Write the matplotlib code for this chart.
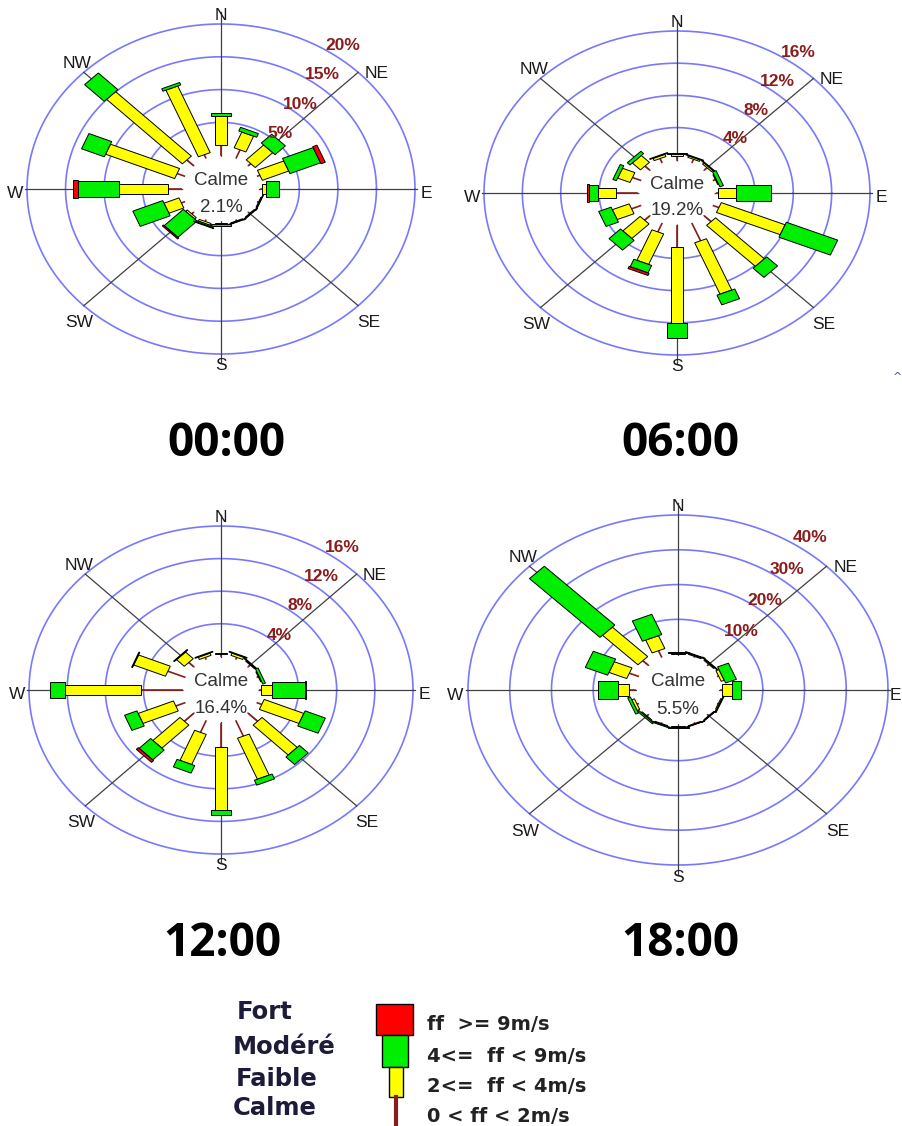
import numpy as np
import matplotlib
matplotlib.use('Agg')
import matplotlib.pyplot as plt
from matplotlib.patches import Polygon, Circle, Rectangle

W, H = 902, 1126

# 16 directions, clockwise from north
directions = ['N', 'NNE', 'NE', 'ENE', 'E', 'ESE', 'SE', 'SSE',
              'S', 'SSW', 'SW', 'WSW', 'W', 'WNW', 'NW', 'NNW']
angles = np.arange(16) * 22.5

hours = ['00:00', '06:00', '12:00', '18:00']
calme_pct = [2.1, 19.2, 16.4, 5.5]
ring_max = [20, 16, 16, 40]

# frequencies (%) per speed class: calm 0-2, faible 2-4, modere 4-9, fort >=9 m/s
calm_00 = [1.5, 1.3, 0.3, 0.3, 0.2, 0.1, 0.1, 0.1, 0.1, 0.2, 0.2, 0.4, 1.7, 1.0, 1.1, 0.5]
faible_00 = [4.5, 2.6, 3.2, 3.7, 0.5, 0.1, 0.1, 0.1, 0.1, 0.3, 0.3, 2.1, 6.4, 9.7, 13.9, 11.0]
modere_00 = [0.5, 0.6, 1.9, 4.3, 1.7, 0.1, 0.1, 0.1, 0.3, 0.2, 3.5, 4.2, 5.3, 3.2, 3.6, 0.4]
fort_00 = [0, 0, 0, 0.6, 0, 0, 0, 0, 0, 0.1, 0.2, 0, 0.6, 0, 0, 0]

calm_06 = [0.5, 0.4, 0.3, 0.2, 0.2, 0.6, 0.9, 2.3, 2.6, 1.1, 0.65, 1.0, 2.25, 0.9, 0.6, 0.5]
faible_06 = [0.2, 0.2, 0.2, 0.1, 1.8, 7.2, 7.2, 6.9, 9.4, 4.1, 2.55, 1.9, 1.85, 1.4, 1.2, 0.3]
modere_06 = [0.1, 0.1, 0.1, 0.4, 3.7, 5.8, 1.6, 1.3, 1.9, 1.0, 1.7, 1.4, 1.0, 0.4, 0.4, 0.1]
fort_06 = [0, 0, 0, 0, 0, 0, 0, 0, 0, 0.3, 0, 0, 0.2, 0, 0, 0]

calm_12 = [0.3, 0.2, 0.2, 0.1, 0.1, 0.5, 1.3, 2.0, 2.9, 1.5, 1.3, 1.0, 4.3, 1.9, 0.65, 0.2]
faible_12 = [0.1, 0.3, 0.1, 0.1, 1.1, 4.5, 5.2, 5.45, 7.7, 4.0, 4.0, 4.0, 7.9, 3.6, 1.15, 0.3]
modere_12 = [0, 0.1, 0.1, 0.3, 3.5, 2.3, 1.3, 0.65, 0.6, 1.0, 1.7, 1.4, 1.6, 0.1, 0.1, 0.1]
fort_12 = [0, 0, 0, 0, 0.1, 0, 0, 0, 0, 0, 0.3, 0, 0, 0, 0, 0]

calm_18 = [0.1, 0.1, 0.1, 0.2, 0.2, 0.1, 0.1, 0.1, 0.1, 0.1, 0.2, 0.3, 1.4, 2.3, 1.6, 1.9]
faible_18 = [0.1, 0.3, 0.3, 0.8, 2.4, 0.3, 0.2, 0.2, 0.2, 0.2, 0.3, 0.7, 2.7, 4.6, 12.0, 4.0]
modere_18 = [0.3, 0.2, 0.2, 2.8, 2.2, 0.2, 0.1, 0.1, 0.2, 0.3, 0.4, 0.7, 4.8, 5.8, 23.9, 6.3]
fort_18 = [0, 0, 0, 0, 0, 0, 0, 0, 0, 0, 0, 0, 0, 0, 0, 0]

# rose placement in pixels: centre x, centre y, horizontal radius, vertical radius
layout = [(221, 189, 194, 165), (677, 193, 193, 162),
          (221, 690, 192, 164), (678, 690, 210, 175)]
title_pos = [(226, 444), (680, 444), (222, 943), (680, 943)]

R0 = 0.205   # calm circle radius (axes units, outer ring = 1)
L = 1.2
RING = '#7878ff'
DARKRED = '#8b1c1c'
YELLOW = '#ffff00'
GREEN = '#00ee00'
RED = '#ff0000'

fig = plt.figure(figsize=(W / 100, H / 100), dpi=100)
fig.patch.set_facecolor('white')


def rad(p, vmax):
    return R0 + (1 - R0) * np.asarray(p) / vmax


def bar(ax, th, r1, r2, hw, fc, z):
    u = np.array([np.sin(th), np.cos(th)])
    v = np.array([np.cos(th), -np.sin(th)])
    pts = [r1 * u + hw * v, r2 * u + hw * v, r2 * u - hw * v, r1 * u - hw * v]
    ax.add_patch(Polygon(pts, closed=True, fc=fc, ec='black', lw=0.7, zorder=z))


def rose(k, calm, faible, modere, fort):
    cx, cy, a, b = layout[k]
    vmax = ring_max[k]
    ax = fig.add_axes([(cx - L * a) / W, 1 - (cy + L * b) / H, 2 * L * a / W, 2 * L * b / H])
    ax.set_xlim(-L, L)
    ax.set_ylim(-L, L)
    ax.axis('off')

    t = np.linspace(0, 2 * np.pi, 361)
    for i in range(1, 5):
        r = rad(vmax * i / 4, vmax)
        ax.plot(r * np.cos(t), r * np.sin(t), color=RING, lw=1.2, zorder=1)
    # compass lines
    ax.plot([0, 0], [-1.05, 1.07], color='#404040', lw=0.9, zorder=2)
    ax.plot([-1.01, 1.01], [0, 0], color='#404040', lw=0.9, zorder=2)
    d = np.sqrt(0.5)
    ax.plot([-d, d], [-d, d], color='#404040', lw=0.9, zorder=2)
    ax.plot([-d, d], [d, -d], color='#404040', lw=0.9, zorder=2)
    ax.add_patch(Circle((0, 0), R0 - 0.01, fc='white', ec='none', zorder=3))

    ex = 1.06 if cx + 1.06 * a < W - 6 else (W - 7 - cx) / a
    lab = {'N': (0, 1.05), 'S': (0, -1.07), 'E': (ex, -0.03), 'W': (-1.06, -0.03),
           'NE': (0.8, 0.7), 'NW': (-0.74, 0.76), 'SE': (0.76, -0.81), 'SW': (-0.73, -0.81)}
    for s, (x, y) in lab.items():
        ax.text(x, y, s, ha='center', va='center', fontsize=12.5,
                family='Liberation Sans', color='#1a1a1a', zorder=8)

    for i in range(1, 5):
        r = rad(vmax * i / 4, vmax)
        ax.text(0.55 * r + 0.08, 0.9 * r - 0.03, '%d%%' % (vmax * i / 4),
                ha='center', va='center', fontsize=12.5, family='Liberation Sans',
                weight='bold', color=DARKRED, zorder=8)

    c1 = np.array(calm)
    c2 = c1 + np.array(faible)
    c3 = c2 + np.array(modere)
    c4 = c3 + np.array(fort)
    for j, ang in enumerate(np.deg2rad(angles)):
        u = np.array([np.sin(ang), np.cos(ang)])
        if calm[j] > 0:
            p0, p1 = R0 * u, rad(c1[j], vmax) * u
            ax.plot([p0[0], p1[0]], [p0[1], p1[1]], color=DARKRED, lw=1.2, zorder=4)
        if faible[j] > 0:
            bar(ax, ang, rad(c1[j], vmax), rad(c2[j], vmax), 0.033, YELLOW, 5)
        if modere[j] > 0:
            bar(ax, ang, rad(c2[j], vmax), rad(c3[j], vmax), 0.05, GREEN, 6)
        if fort[j] > 0:
            bar(ax, ang, rad(c3[j], vmax), rad(c4[j], vmax), 0.056, RED, 7)

    ax.text(0, 0.05, 'Calme', ha='center', va='center', fontsize=13.5,
            family='Liberation Sans', color='#333333', zorder=9)
    ax.text(0, -0.11, '%.1f%%' % calme_pct[k], ha='center', va='center', fontsize=13.5,
            family='Liberation Sans', color='#333333', zorder=9)

    tx, ty = title_pos[k]
    fig.text(tx / W, 1 - ty / H, hours[k], ha='center', va='center', fontsize=33,
             family='Open Sans', weight='bold', color='black')


rose(0, calm_00, faible_00, modere_00, fort_00)
rose(1, calm_06, faible_06, modere_06, fort_06)
rose(2, calm_12, faible_12, modere_12, fort_12)
rose(3, calm_18, faible_18, modere_18, fort_18)

# legend
lg = fig.add_axes([0, 0, 1, 1])
lg.set_xlim(0, W)
lg.set_ylim(H, 0)
lg.axis('off')
lg.add_patch(Rectangle((376, 1004), 37, 31, fc=RED, ec='black', lw=1))
lg.add_patch(Rectangle((382, 1035), 26, 32, fc=GREEN, ec='black', lw=1))
lg.add_patch(Rectangle((389, 1067), 14, 30, fc=YELLOW, ec='black', lw=1))
lg.plot([396, 396], [1097, 1126], color=DARKRED, lw=3)

classes = ['Fort', 'Modéré', 'Faible', 'Calme']
class_y = [1012, 1047, 1079, 1108]
class_x = [237, 233, 236, 233]
ranges = ['ff  >= 9m/s', '4<=  ff < 9m/s', '2<=  ff < 4m/s', '0 < ff < 2m/s']
range_y = [1024, 1056, 1087, 1117]
for s, x, y in zip(classes, class_x, class_y):
    lg.text(x, y, s, ha='left', va='center', fontsize=17.5, family='DejaVu Sans',
            weight='bold', color='#1c1c3a')
for s, y in zip(ranges, range_y):
    lg.text(427, y, s, ha='left', va='center', fontsize=14, family='DejaVu Sans',
            weight='bold', color='#222222')
lg.text(897, 377, '^', ha='center', va='center', fontsize=8, color='#3344cc')

fig.savefig('out.png', dpi=100)
